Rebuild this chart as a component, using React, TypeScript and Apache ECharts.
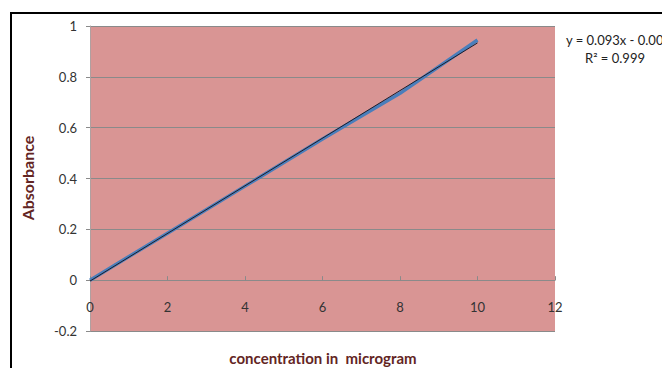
import React, { useEffect, useRef } from "react";
import * as echarts from "echarts";

// Calibration data: concentration (µg) vs absorbance
const concentration = [0, 2, 4, 6, 8, 10];
const absorbance = [0, 0.185, 0.37, 0.555, 0.735, 0.945];

// Linear trendline fitted to the calibration points
const trendSlope = 0.0937;
const trendIntercept = -0.0036;
const trendLabel = ["y = 0.093x - 0.004", "R² = 0.999"];

const xTicks = [0, 2, 4, 6, 8, 10, 12];
const yTicks = [-0.2, 0, 0.2, 0.4, 0.6, 0.8, 1];

const FONT = "Lato";

const GRID_TOP = 26;
const GRID_BOTTOM = 37;
const CHART_H = 368;

export default function App() {
  const ref = useRef<HTMLDivElement>(null);

  useEffect(() => {
    if (!ref.current) return;
    const chart = echarts.init(ref.current, null, { renderer: "svg" });
    const xEnd = concentration[concentration.length - 1];
    const trend = [
      [concentration[0], trendSlope * concentration[0] + trendIntercept],
      [xEnd, trendSlope * xEnd + trendIntercept],
    ];
    // shift the x axis up from the grid bottom to the y = 0 line
    const plotH = CHART_H - GRID_TOP - GRID_BOTTOM;
    const yMin = yTicks[0];
    const yMax = yTicks[yTicks.length - 1];
    const zeroOffset = -((0 - yMin) / (yMax - yMin)) * plotH;

    chart.setOption({
      animation: false,
      backgroundColor: "#ffffff",
      textStyle: { fontFamily: FONT },
      grid: {
        left: 90,
        top: GRID_TOP,
        right: 107,
        bottom: GRID_BOTTOM,
        show: true,
        backgroundColor: "#D99594",
        borderWidth: 0,
      },
      xAxis: {
        type: "value",
        min: xTicks[0],
        max: xTicks[xTicks.length - 1],
        interval: 2,
        offset: zeroOffset,
        axisLine: { show: true, onZero: false, lineStyle: { color: "#8a8a8a", width: 1 } },
        axisTick: { show: true, inside: true, length: 4, lineStyle: { color: "#8a8a8a" } },
        splitLine: { show: false },
        axisLabel: {
          show: true,
          margin: 20,
          color: "#333333",
          fontFamily: FONT,
          fontSize: 13,
          showMinLabel: true,
          showMaxLabel: true,
        },
      },
      yAxis: {
        type: "value",
        min: yMin,
        max: yMax,
        interval: 0.2,
        axisLine: { show: true, onZero: false, lineStyle: { color: "#b0a0a0", width: 1 } },
        axisTick: { show: true, inside: false, length: 4, lineStyle: { color: "#8a8a8a" } },
        splitLine: { show: true, lineStyle: { color: "#8a8a8a", width: 1 } },
        axisLabel: {
          margin: 13,
          color: "#333333",
          fontFamily: FONT,
          fontSize: 13,
          formatter: (v: number) => String(Number(v.toFixed(1))),
        },
      },
      series: [
        {
          type: "line",
          data: concentration.map((x, i) => [x, absorbance[i]]),
          showSymbol: false,
          lineStyle: { color: "#4A7EBB", width: 3.5 },
          z: 2,
        },
        {
          type: "line",
          data: trend,
          showSymbol: false,
          lineStyle: { color: "#1c1c2a", width: 1 },
          z: 3,
        },
      ],
      graphic: [
        {
          type: "rect",
          shape: { x: 11, y: 13, width: 700, height: 400 },
          style: { fill: "none", stroke: "#000000", lineWidth: 2 },
          silent: true,
          z: 10,
        },
        {
          type: "text",
          x: 27,
          y: 178,
          rotation: Math.PI / 2,
          style: {
            text: "Absorbance",
            fill: "#632523",
            font: `bold 16px ${FONT}`,
            align: "center",
            verticalAlign: "middle",
          },
        },
        {
          type: "text",
          x: 323,
          y: 358,
          style: {
            text: "concentration in  microgram",
            fill: "#632523",
            font: `bold 15px ${FONT}`,
            align: "center",
            verticalAlign: "middle",
          },
        },
        {
          type: "text",
          x: 566,
          y: 40,
          style: {
            text: trendLabel[0],
            fill: "#222222",
            font: `13px ${FONT}`,
            align: "left",
            verticalAlign: "middle",
          },
        },
        {
          type: "text",
          x: 615,
          y: 58,
          style: {
            text: trendLabel[1],
            fill: "#222222",
            font: `13px ${FONT}`,
            align: "center",
            verticalAlign: "middle",
          },
        },
      ],
    });
    return () => chart.dispose();
  }, []);

  return (
    <div
      ref={ref}
      style={{ position: "fixed", left: 0, top: 0, width: 662, height: 368, overflow: "hidden" }}
    />
  );
}
